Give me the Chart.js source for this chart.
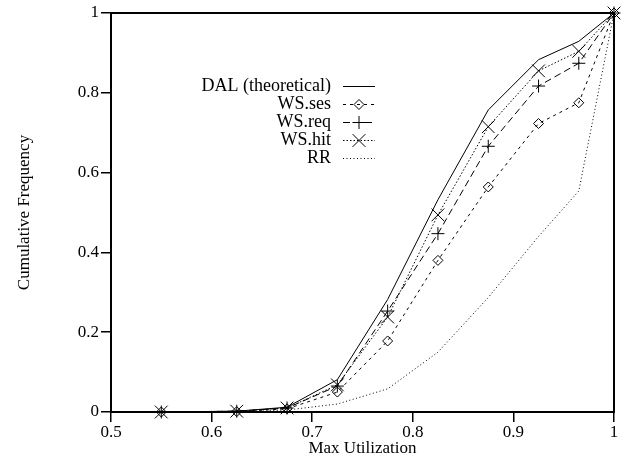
<!DOCTYPE html>
<html>
<head>
<meta charset="utf-8">
<script src="https://cdn.jsdelivr.net/npm/chart.js@4.4.0/dist/chart.umd.min.js"></script>
<style>
  html, body { margin: 0; padding: 0; background: #fff; }
  #wrap { width: 627px; height: 462px; }
</style>
</head>
<body>
<div id="wrap"><canvas id="chart" width="627" height="462"></canvas></div>
<script>
// Valores
const utilization = [0.55, 0.625, 0.675, 0.725, 0.775, 0.825, 0.875, 0.925, 0.965, 1.0];
const dalTheoretical = [0, 0.002, 0.012, 0.081, 0.282, 0.532, 0.757, 0.883, 0.929, 1];
const wsSes = [0, 0.001, 0.008, 0.050, 0.178, 0.380, 0.564, 0.723, 0.775, 1];
const wsReq = [0, 0.002, 0.010, 0.065, 0.253, 0.447, 0.666, 0.817, 0.874, 1];
const wsHit = [0, 0.002, 0.010, 0.068, 0.238, 0.494, 0.715, 0.855, 0.904, 1];
const rr = [0, 0, 0.005, 0.020, 0.058, 0.150, 0.287, 0.440, 0.554, 1];

const seriesNames = ['DAL (theoretical)', 'WS.ses', 'WS.req', 'WS.hit', 'RR'];
const xTicks = [0.5, 0.6, 0.7, 0.8, 0.9, 1];
const yTicks = [0, 0.2, 0.4, 0.6, 0.8, 1];

const FONT = 'Liberation Serif';

function toPoints(values) {
    return utilization.map((x, i) => ({ x: x, y: values[i] }));
}

function makeDataset(label, values, dash, pointStyle, radius) {
    return {
        label: label,
        data: toPoints(values),
        borderColor: '#000',
        borderWidth: 1,
        borderDash: dash,
        tension: 0,
        fill: false,
        clip: false,
        pointStyle: pointStyle || 'circle',
        pointRadius: pointStyle ? radius : 0,
        pointHoverRadius: pointStyle ? radius : 0,
        pointBorderColor: '#000',
        pointBorderWidth: 1,
        pointBackgroundColor: 'rgba(0,0,0,0)'
    };
}

// Marco completo alrededor del área de datos
const frameBox = {
    id: 'frameBox',
    beforeDatasetsDraw(chart) {
        const a = chart.chartArea;
        const ctx = chart.ctx;
        ctx.save();
        ctx.strokeStyle = '#000';
        ctx.lineWidth = 2;
        ctx.strokeRect(a.left, a.top, a.right - a.left, a.bottom - a.top);
        ctx.restore();
    }
};

// Leyenda dentro del gráfico: texto a la izquierda, muestra a la derecha
const legendInside = {
    id: 'legendInside',
    afterDatasetsDraw(chart) {
        const ctx = chart.ctx;
        ctx.save();
        ctx.font = '18px "' + FONT + '"';
        ctx.textAlign = 'right';
        ctx.textBaseline = 'middle';
        chart.data.datasets.forEach((ds, i) => {
            const y = 86 + i * 18;
            ctx.fillStyle = '#000';
            ctx.fillText(ds.label, 331, y);
            ctx.strokeStyle = '#000';
            ctx.lineWidth = 1;
            ctx.setLineDash(ds.borderDash || []);
            ctx.beginPath();
            ctx.moveTo(343, y + 0.5);
            ctx.lineTo(375, y + 0.5);
            ctx.stroke();
            ctx.setLineDash([]);
            if (ds.pointRadius > 0) {
                ctx.fillStyle = 'rgba(0,0,0,0)';
                Chart.helpers.drawPoint(ctx, {
                    pointStyle: ds.pointStyle,
                    radius: ds.pointRadius,
                    borderWidth: 1,
                    rotation: 0
                }, 359, y + 0.5);
            }
        });
        ctx.restore();
    }
};

const ctx = document.getElementById('chart');

new Chart(ctx, {
    type: 'line',
    data: {
        datasets: [
            makeDataset(seriesNames[0], dalTheoretical, [], null, 0),
            makeDataset(seriesNames[1], wsSes, [3, 4], 'rectRot', 5),
            makeDataset(seriesNames[2], wsReq, [7, 4], 'cross', 6.5),
            makeDataset(seriesNames[3], wsHit, [1.5, 2], 'crossRot', 9),
            makeDataset(seriesNames[4], rr, [1, 2.5], null, 0)
        ]
    },
    options: {
        responsive: false,
        animation: false,
        devicePixelRatio: 1,
        layout: {
            padding: { top: 13, right: 13, left: 0, bottom: 0 }
        },
        plugins: {
            legend: { display: false },
            tooltip: { enabled: false }
        },
        scales: {
            x: {
                type: 'linear',
                min: 0.5,
                max: 1,
                afterBuildTicks: scale => {
                    scale.ticks = xTicks.map(v => ({ value: v }));
                },
                afterFit: scale => {
                    scale.height = 50;
                },
                ticks: {
                    color: '#000',
                    font: { family: FONT, size: 17 },
                    padding: 0,
                    maxRotation: 0,
                    callback: value => String(value)
                },
                grid: {
                    drawOnChartArea: false,
                    drawTicks: true,
                    tickLength: 10,
                    color: '#000',
                    lineWidth: 1.5
                },
                border: { display: false },
                title: {
                    display: true,
                    text: 'Max Utilization',
                    color: '#000',
                    font: { family: FONT, size: 17 },
                    padding: { top: 0, bottom: 3 }
                }
            },
            y: {
                type: 'linear',
                min: 0,
                max: 1,
                afterBuildTicks: scale => {
                    scale.ticks = yTicks.map(v => ({ value: v }));
                },
                afterFit: scale => {
                    scale.width = 111;
                },
                ticks: {
                    color: '#000',
                    font: { family: FONT, size: 17 },
                    padding: 2,
                    callback: value => String(value)
                },
                grid: {
                    drawOnChartArea: false,
                    drawTicks: true,
                    tickLength: 10,
                    color: '#000',
                    lineWidth: 1.5
                },
                border: { display: false },
                title: {
                    display: true,
                    text: 'Cumulative Frequency',
                    color: '#000',
                    font: { family: FONT, size: 17 },
                    padding: { top: 14, bottom: 0 }
                }
            }
        }
    },
    plugins: [frameBox, legendInside]
});
</script>
</body>
</html>
